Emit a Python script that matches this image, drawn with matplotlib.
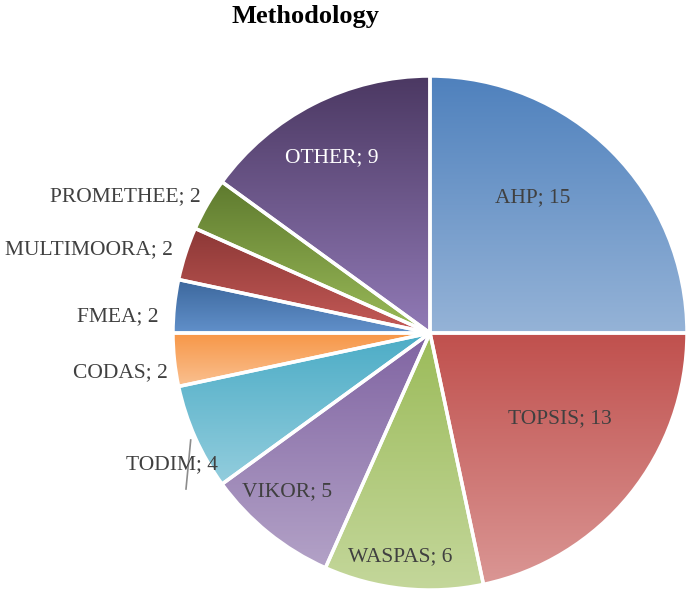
import numpy as np
import matplotlib.pyplot as plt
from matplotlib.colors import LinearSegmentedColormap

# data
labels = ["AHP", "TOPSIS", "WASPAS", "VIKOR", "TODIM", "CODAS", "FMEA",
          "MULTIMOORA", "PROMETHEE", "OTHER"]
values = [15, 13, 6, 5, 4, 2, 2, 2, 2, 9]

# gradient colours (top, bottom) per slice
tops = ["#4F81BD", "#C0504D", "#9BBB59", "#8064A2", "#4BACC6", "#F79646",
        "#3C679C", "#8C3836", "#5E7A2E", "#4B3862"]
bottoms = ["#95B3D7", "#DA9694", "#C4D79B", "#B3A2C7", "#93CDDD", "#FAC090",
           "#6190CA", "#C55A57", "#9BBB59", "#917AB6"]
text_cols = ["#404040"] * 9 + ["white"]

# label positions in pixels (x, y from top)
lab_pos = [(533, 198), (560, 419), (400, 557), (287, 492), (172, 465),
           (120, 373), (118, 317), (89, 250), (125, 197), (332, 158)]

W, H = 688, 594
fig = plt.figure(figsize=(W / 100, H / 100), dpi=100)
ax = fig.add_axes([0, 0, 1, 1])

cx, cy, r = 430, H - 333, 257
wedges, _ = ax.pie(values, center=(cx, cy), radius=r, startangle=90,
                   counterclock=False, frame=True,
                   wedgeprops=dict(edgecolor="white", linewidth=2.5))

grad = np.linspace(0, 1, 256).reshape(-1, 1)
for w, c1, c2 in zip(wedges, tops, bottoms):
    v = w.get_path().vertices
    x0, x1 = v[:, 0].min(), v[:, 0].max()
    y0, y1 = v[:, 1].min(), v[:, 1].max()
    cmap = LinearSegmentedColormap.from_list("g", [c2, c1])
    im = ax.imshow(grad, cmap=cmap, extent=(x0, x1, y0, y1), origin="lower",
                   aspect="auto", zorder=1, interpolation="bilinear")
    im.set_clip_path(w)
    w.set_facecolor("none")
    w.set_zorder(2)

ax.set_xlim(0, W)
ax.set_ylim(0, H)
ax.axis("off")

for name, val, (px, py), tc in zip(labels, values, lab_pos, text_cols):
    ax.text(px, H - py, f"{name}; {val}", ha="center", va="center",
            fontsize=15.5, family="Liberation Serif", color=tc, zorder=5)

# leader line for TODIM
ax.plot([190.7, 186], [H - 440, H - 489], color="#8c8c8c", lw=1.2, zorder=4)

fig.text(306 / W, 1 - 16 / H, "Methodology", ha="center", va="center",
         fontsize=19, fontweight="bold", family="Liberation Serif")

fig.savefig("out.png", dpi=100, facecolor="white")
